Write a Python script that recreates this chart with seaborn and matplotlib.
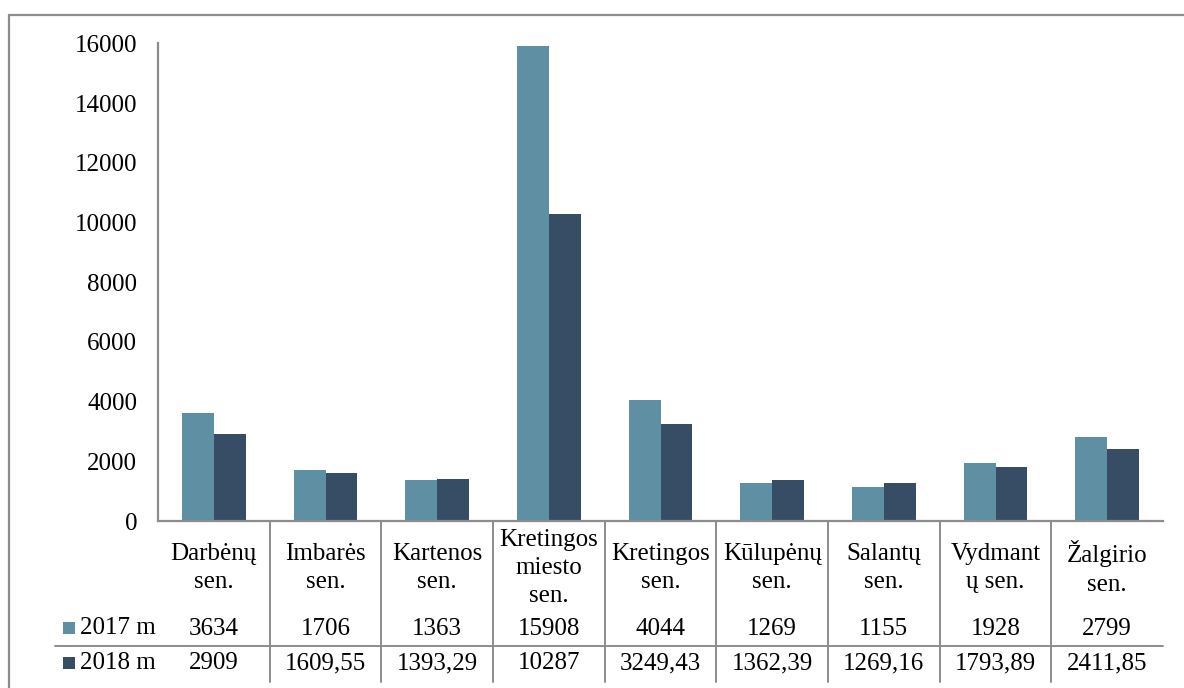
import matplotlib
matplotlib.use("Agg")
import matplotlib.pyplot as plt
import matplotlib.transforms as mtransforms
from matplotlib.lines import Line2D
from matplotlib.patches import Rectangle
import seaborn as sns
import pandas as pd

categories = ["Darbėnų\nsen.", "Imbarės\nsen.", "Kartenos\nsen.", "Kretingos\nmiesto\nsen.",
              "Kretingos\nsen.", "Kūlupėnų\nsen.", "Salantų\nsen.", "Vydmant\nų sen.", "Žalgirio\nsen."]
series_names = ["2017 m", "2018 m"]
values_2017 = [3634, 1706, 1363, 15908, 4044, 1269, 1155, 1928, 2799]
values_2018 = [2909, 1609.55, 1393.29, 10287, 3249.43, 1362.39, 1269.16, 1793.89, 2411.85]
yticks = [0, 2000, 4000, 6000, 8000, 10000, 12000, 14000, 16000]

colors = ["#5F8FA2", "#374D66"]
grey = "#8C8C8C"

sns.set_theme(style="white")
plt.rcParams["font.family"] = ["Liberation Serif", "DejaVu Serif"]
FS = 18

W, H = 1184, 688
fig = plt.figure(figsize=(W / 100, H / 100), dpi=100)

def fx(px):
    return px / W

def fy(py):
    return 1 - py / H

ax_left, ax_right, ax_top, ax_bottom = 158, 1163, 43.5, 521
ax = fig.add_axes([fx(ax_left), fy(ax_bottom), fx(ax_right - ax_left), (ax_bottom - ax_top) / H])

df = pd.DataFrame({
    "cat": categories * 2,
    "year": [series_names[0]] * len(categories) + [series_names[1]] * len(categories),
    "val": values_2017 + values_2018,
})
sns.barplot(data=df, x="cat", y="val", hue="year", palette=colors, width=0.573,
            saturation=1, ax=ax, legend=False, linewidth=0, errorbar=None)

ax.set_xlim(-0.5, len(categories) - 0.5)
ax.set_ylim(0, 16000)
ax.set_yticks(yticks)
ax.set_yticklabels([str(t) for t in yticks], fontsize=FS, color="black")
ax.tick_params(axis="y", length=0, pad=15)
ax.set_xticks([])
ax.set_xlabel("")
ax.set_ylabel("")
for s in ["top", "right"]:
    ax.spines[s].set_visible(False)
for s in ["left", "bottom"]:
    ax.spines[s].set_color(grey)
    ax.spines[s].set_linewidth(1.6)

blend = mtransforms.blended_transform_factory(ax.transData, fig.transFigure)

def fmt(v):
    if float(v).is_integer():
        return str(int(v))
    return f"{v:.2f}".replace(".", ",")

# category labels and values
for i, c in enumerate(categories):
    ax.text(i, fy(568), c, transform=blend, ha="center", va="center",
            fontsize=FS, linespacing=1.38, color="black")
    ax.text(i, fy(629), fmt(values_2017[i]), transform=blend, ha="center", va="center",
            fontsize=FS, color="black")
    ax.text(i, fy(663), fmt(values_2018[i]), transform=blend, ha="center", va="center",
            fontsize=FS, color="black")

# vertical separators
for k in range(len(categories) - 1):
    xk = k + 0.5
    fig.add_artist(Line2D([xk, xk], [fy(521), fy(682)], transform=blend,
                          color=grey, lw=1.4))

# horizontal separator
fig.add_artist(Line2D([fx(55), fx(1163)], [fy(645.5), fy(645.5)], transform=fig.transFigure,
                      color=grey, lw=1.4))

# legend keys
for j, (name, yc) in enumerate(zip(series_names, [628, 663])):
    fig.add_artist(Rectangle((fx(63), fy(yc + 6)), fx(12), 12 / H, transform=fig.transFigure,
                             facecolor=colors[j], edgecolor="none"))
    fig.text(fx(80), fy(yc), name, ha="left", va="center", fontsize=FS, color="black")

# outer border (top & left)
fig.add_artist(Line2D([fx(9), fx(9)], [fy(14.5), 0], transform=fig.transFigure, color=grey, lw=1.6))
fig.add_artist(Line2D([fx(9), 1], [fy(14.5), fy(14.5)], transform=fig.transFigure, color=grey, lw=1.6))

fig.savefig("out.png", dpi=100)
